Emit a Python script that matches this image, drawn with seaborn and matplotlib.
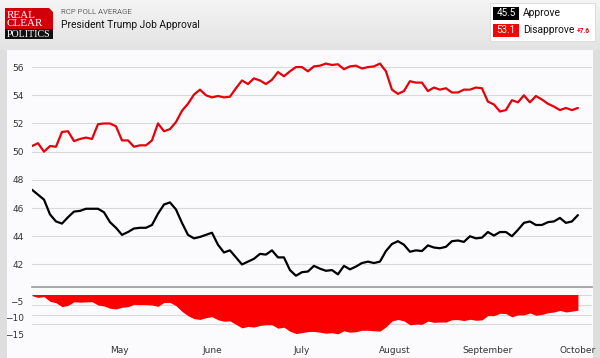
import numpy as np
import pandas as pd
import matplotlib
matplotlib.use("Agg")
import matplotlib.pyplot as plt
import matplotlib.dates as mdates
from matplotlib.patches import Rectangle, Polygon
from matplotlib.ticker import MultipleLocator, FixedLocator
from matplotlib.colors import LinearSegmentedColormap
import seaborn as sns

# poll average, one reading every 2 days starting early April
start_date = "2025-04-02"
approve = [47.3, 46.95, 46.6, 45.55, 45.05, 44.9, 45.35, 45.75, 45.8, 45.95,
           45.95, 45.95, 45.7, 45.0, 44.6, 44.1, 44.3, 44.55, 44.6, 44.6,
           44.8, 45.6, 46.25, 46.4, 45.9, 44.95, 44.1, 43.85, 43.95, 44.1,
           44.25, 43.4, 42.85, 43.0, 42.5, 42.0, 42.2, 42.4, 42.75, 42.7,
           43.0, 42.5, 42.5, 41.6, 41.2, 41.45, 41.5, 41.9, 41.7, 41.55,
           41.6, 41.3, 41.9, 41.65, 41.85, 42.1, 42.2, 42.1, 42.2, 42.95,
           43.45, 43.65, 43.4, 42.9, 43.0, 42.95, 43.35, 43.2, 43.15, 43.25,
           43.65, 43.7, 43.6, 44.0, 43.85, 43.9, 44.3, 44.05, 44.3, 44.3,
           44.0, 44.45, 44.95, 45.05, 44.8, 44.8, 45.0, 45.05, 45.3, 44.95,
           45.05, 45.5]
disapprove = [50.4, 50.6, 50.0, 50.4, 50.35, 51.4, 51.45, 50.75, 50.9, 51.0,
              50.9, 51.95, 52.0, 52.0, 51.8, 50.8, 50.8, 50.35, 50.45, 50.45,
              50.8, 52.0, 51.45, 51.6, 52.1, 52.9, 53.4, 54.05, 54.4, 54.0,
              53.85, 53.95, 53.85, 53.9, 54.5, 55.05, 54.8, 55.2, 55.05, 54.8,
              55.1, 55.65, 55.35, 55.7, 56.0, 56.0, 55.7, 56.05, 56.1, 56.25,
              56.15, 56.2, 55.85, 56.05, 56.1, 55.9, 56.0, 56.05, 56.25, 55.7,
              54.4, 54.1, 54.3, 55.0, 54.9, 54.9, 54.3, 54.55, 54.4, 54.5,
              54.2, 54.2, 54.4, 54.4, 54.55, 54.5, 53.55, 53.35, 52.85, 52.95,
              53.65, 53.5, 54.0, 53.5, 53.95, 53.7, 53.4, 53.2, 52.95, 53.1,
              52.95, 53.1]
upper_ticks = [42, 44, 46, 48, 50, 52, 54, 56]
spread_ticks = [-5, -10, -15]
latest_approve = "45.5"
latest_disapprove = "53.1"
latest_spread = "+7.6"

dates = pd.date_range(start_date, periods=len(approve), freq="2D")
df = pd.DataFrame({"date": dates, "Approve": approve, "Disapprove": disapprove})
df["spread"] = df["Approve"] - df["Disapprove"]

sns.set_theme(style="white")
plt.rcParams["font.family"] = ["DejaVu Sans"]

RED = "#e6000a"
FILL = "#fb0000"
GRID = "#dadada"
W, H = 600, 358

def fx(x):
    return x / W

def fy(y):
    return 1 - y / H

fig = plt.figure(figsize=(6, 3.58), dpi=100, facecolor="#dedede")

# header gradient
hax = fig.add_axes([0, fy(50), 1, 50 / H])
cm = LinearSegmentedColormap.from_list("hdr", ["#f4f4f4", "#e3e3e3"])
hax.imshow(np.linspace(0, 1, 50)[:, None], cmap=cm, aspect="auto")
hax.axis("off")

# white plot panel (behind the axes)
fig.patches.append(Rectangle((fx(7), 0), fx(593) - fx(7), fy(50),
                             transform=fig.transFigure, facecolor="#fbfbfd",
                             edgecolor="none", zorder=-5))

# logo
fig.patches.append(Polygon([(fx(5), fy(8)), (fx(49), fy(8)), (fx(53), fy(12)),
                            (fx(53), fy(29)), (fx(5), fy(29))], closed=True,
                           transform=fig.transFigure, facecolor="#d0000b",
                           edgecolor="none", zorder=3))
fig.patches.append(Rectangle((fx(5), fy(39)), fx(48), 10 / H, transform=fig.transFigure,
                             facecolor="#111111", edgecolor="none", zorder=3))
for txt, y, fs in [("REAL", 15.5, 8), ("CLEAR", 24, 8), ("POLITICS", 34.5, 7.2)]:
    fig.text(fx(6.5), fy(y), txt, color="white", fontsize=fs, va="center", ha="left",
             family="Liberation Serif", zorder=4)

fig.text(fx(61), fy(12.5), "RCP POLL AVERAGE", fontsize=5.6, color="#666666",
         va="center", family="Roboto")
fig.text(fx(61), fy(25.5), "President Trump Job Approval", fontsize=7.4, color="#111111",
         va="center", family="Roboto")

# legend box
fig.patches.append(Rectangle((fx(490), fy(41)), fx(105), 38 / H, transform=fig.transFigure,
                             facecolor="white", edgecolor="#d8d8d8", lw=0.6, zorder=3))
fig.patches.append(Rectangle((fx(493), fy(19.5)), fx(26), 13 / H, transform=fig.transFigure,
                             facecolor="black", edgecolor="none", zorder=3))
fig.patches.append(Rectangle((fx(493), fy(36.5)), fx(26), 13 / H, transform=fig.transFigure,
                             facecolor=FILL, edgecolor="none", zorder=3))
fig.text(fx(506), fy(13.3), latest_approve, color="white", fontsize=7, ha="center",
         va="center", family="Roboto", zorder=4)
fig.text(fx(506), fy(30.3), latest_disapprove, color="white", fontsize=7, ha="center",
         va="center", family="Roboto", zorder=4)
fig.text(fx(523), fy(13.3), "Approve", color="#111111", fontsize=7.4, va="center",
         family="Roboto", zorder=4)
fig.text(fx(523), fy(30.3), "Disapprove", color="#111111", fontsize=7.4, va="center",
         family="Roboto", zorder=4)
fig.text(fx(577), fy(31), latest_spread, color=RED, fontsize=4.8, va="center",
         family="Roboto", weight="bold", zorder=4)

x0 = pd.Timestamp(start_date)
x1 = x0 + pd.Timedelta(days=186.7)

# main chart
ax = fig.add_axes([fx(32), fy(287), fx(560), (287 - 53) / H])
ax.set_zorder(2)
ax.set_facecolor("none")
sns.lineplot(data=df, x="date", y="Disapprove", color=RED, lw=1.6, ax=ax)
sns.lineplot(data=df, x="date", y="Approve", color="black", lw=1.6, ax=ax)
ax.set_xlim(x0, x1)
ax.set_ylim(40.4, 57.0)
ax.yaxis.set_major_locator(FixedLocator(upper_ticks))
ax.grid(axis="y", color=GRID, lw=0.8)
ax.set_axisbelow(True)
ax.set_xticks([])
ax.set_xlabel("")
ax.set_ylabel("")
for s in ["top", "right", "left"]:
    ax.spines[s].set_visible(False)
ax.spines["bottom"].set_color("#9a9a9a")
ax.spines["bottom"].set_linewidth(1.2)
ax.tick_params(axis="y", length=0, pad=6, labelsize=6.5, labelcolor="#333333")

# spread chart
ax2 = fig.add_axes([fx(32), fy(340), fx(560), (340 - 295) / H])
ax2.set_zorder(2)
ax2.set_facecolor("none")
ax2.fill_between(df["date"], df["spread"], 0, color=FILL, lw=0, zorder=2)
ax2.set_xlim(x0, x1)
ax2.set_ylim(-16.8, -2.9)
ax2.yaxis.set_major_locator(FixedLocator(spread_ticks))
ax2.yaxis.set_minor_locator(MultipleLocator(3))
ax2.grid(axis="y", which="minor", color=GRID, lw=0.8)
ax2.grid(axis="y", which="major", visible=False)
ax2.set_axisbelow(True)
ax2.xaxis.set_major_locator(mdates.MonthLocator())
ax2.xaxis.set_major_formatter(mdates.DateFormatter("%B"))
for s in ax2.spines.values():
    s.set_visible(False)
ax2.tick_params(axis="both", which="both", length=0, labelsize=6.5, labelcolor="#333333")
ax2.tick_params(axis="y", pad=6)
ax2.tick_params(axis="x", pad=4)

fig.savefig("out.png", dpi=100, facecolor=fig.get_facecolor())
